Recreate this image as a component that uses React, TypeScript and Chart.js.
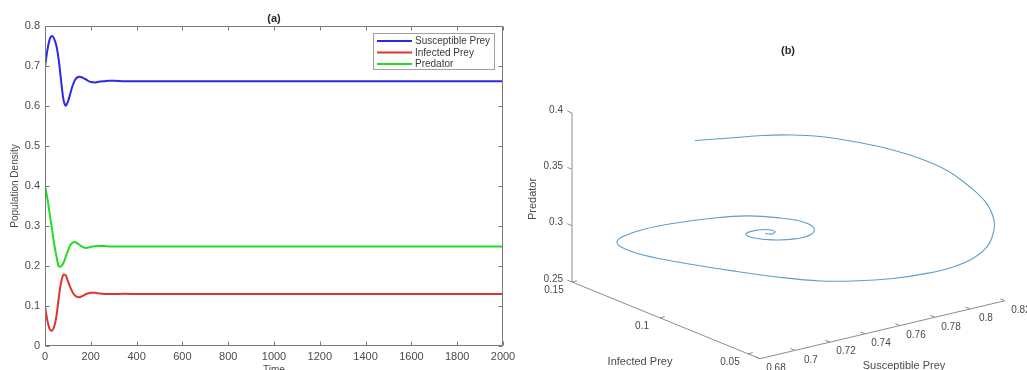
import React, { useEffect, useRef } from "react";
import { Chart, registerables } from "chart.js";

Chart.register(...registerables);

const FONT = '"Liberation Sans", Arial, Helvetica, sans-serif';

// ---------- Panel (a): time series ----------
const timeA = [
  0, 10, 20, 30, 40, 50, 60, 70, 80, 90, 100, 110, 120, 130, 140, 150, 160, 170, 180, 190, 200,
  220, 240, 260, 280, 300, 350, 400, 500, 600, 700, 800, 900, 1000, 1100, 1200, 1300, 1400, 1500,
  1600, 1700, 1800, 1900, 2000,
];
const susceptibleA = [
  0.698, 0.738, 0.766, 0.775, 0.768, 0.75, 0.715, 0.665, 0.618, 0.601, 0.611, 0.63, 0.65, 0.664,
  0.671, 0.673, 0.672, 0.669, 0.666, 0.662, 0.66, 0.659, 0.661, 0.662, 0.663, 0.663, 0.662, 0.662,
  0.662, 0.662, 0.662, 0.662, 0.662, 0.662, 0.662, 0.662, 0.662, 0.662, 0.662, 0.662, 0.662, 0.662,
  0.662, 0.662,
];
const infectedA = [
  0.1, 0.065, 0.043, 0.038, 0.048, 0.075, 0.12, 0.158, 0.178, 0.177, 0.162, 0.147, 0.135, 0.127,
  0.123, 0.122, 0.124, 0.127, 0.13, 0.132, 0.133, 0.133, 0.131, 0.13, 0.13, 0.13, 0.1305, 0.13,
  0.13, 0.13, 0.13, 0.13, 0.13, 0.13, 0.13, 0.13, 0.13, 0.13, 0.13, 0.13, 0.13, 0.13, 0.13, 0.13,
];
const predatorA = [
  0.4, 0.37, 0.332, 0.295, 0.255, 0.225, 0.199, 0.199, 0.207, 0.222, 0.238, 0.251, 0.258, 0.26,
  0.257, 0.253, 0.249, 0.246, 0.245, 0.246, 0.248, 0.2495, 0.25, 0.25, 0.249, 0.249, 0.249, 0.249,
  0.249, 0.249, 0.249, 0.249, 0.249, 0.249, 0.249, 0.249, 0.249, 0.249, 0.249, 0.249, 0.249, 0.249,
  0.249, 0.249,
];
const seriesNamesA = ["Susceptible Prey", "Infected Prey", "Predator"];
const seriesColorsA = ["#2b2be6", "#e03434", "#22dc22"];

// ---------- Panel (b): 3-D phase trajectory ----------
const susceptibleB = [
  0.7, 0.7249, 0.7364, 0.7458, 0.7563, 0.7678, 0.7796, 0.7911, 0.8005, 0.8085, 0.8144, 0.8169,
  0.8165, 0.8144, 0.8095, 0.8026, 0.7935, 0.7817, 0.7678, 0.7563, 0.7441, 0.726, 0.7086, 0.6947,
  0.687, 0.6856, 0.6877, 0.6947, 0.7051, 0.718, 0.7309, 0.7424, 0.7504, 0.7542, 0.7531, 0.7476,
  0.7396, 0.7326, 0.7305, 0.7323, 0.7371, 0.7406, 0.7396, 0.7371,
];
const infectedB = [
  0.1, 0.1049, 0.0976, 0.0916, 0.0849, 0.0776, 0.0701, 0.0627, 0.0567, 0.0516, 0.0479, 0.0463,
  0.0465, 0.0479, 0.051, 0.0554, 0.0612, 0.0687, 0.0776, 0.0849, 0.0927, 0.1043, 0.1153, 0.1242,
  0.1291, 0.13, 0.1287, 0.1242, 0.1176, 0.1094, 0.1011, 0.0938, 0.0887, 0.0863, 0.0869, 0.0905,
  0.0956, 0.1, 0.1014, 0.1003, 0.0971, 0.0949, 0.0956, 0.0971,
];
const predatorB = [
  0.4, 0.39, 0.3927, 0.3935, 0.3926, 0.3886, 0.3828, 0.3744, 0.3642, 0.3498, 0.335, 0.32, 0.3084,
  0.2968, 0.2864, 0.2786, 0.2725, 0.2676, 0.2648, 0.2644, 0.2666, 0.2721, 0.2785, 0.285, 0.2918,
  0.2967, 0.3012, 0.3077, 0.3134, 0.3183, 0.3211, 0.3197, 0.3165, 0.3113, 0.3055, 0.3013, 0.3001,
  0.302, 0.3046, 0.3074, 0.3093, 0.3077, 0.3054, 0.3058,
];
const sTicksB = [0.68, 0.7, 0.72, 0.74, 0.76, 0.78, 0.8, 0.82];
const iTicksB = [0.15, 0.1, 0.05];
const pTicksB = [0.25, 0.3, 0.35, 0.4];
const sRangeB = [0.68, 0.82];
const iRangeB = [0.0432, 0.15];
const pRangeB = [0.25, 0.4];

// view (orthographic projection) of the 3-D box, in scale units per data unit
const VIEW = { sx: 1750, sy: 414, ix: -1760, iy: 718, pz: 1127 };
function project(s: number, i: number, p: number) {
  const ds = s - sRangeB[0];
  const di = i - iRangeB[1];
  const dp = p - pRangeB[0];
  return { x: ds * VIEW.sx + di * VIEW.ix, y: ds * VIEW.sy + di * VIEW.iy + dp * VIEW.pz };
}

const fmt = (v: number) => String(+v.toFixed(2));

const panelAPlugin = {
  id: "panelA",
  afterDatasetsDraw(chart: any) {
    const { ctx, chartArea: ca, scales } = chart;
    const L = Math.round(ca.left) + 0.5;
    const R = Math.round(ca.right) - 0.5;
    const T = Math.round(ca.top) + 0.5;
    const B = Math.round(ca.bottom) - 0.5;
    ctx.save();
    ctx.strokeStyle = "#7a7a7a";
    ctx.lineWidth = 1;
    ctx.strokeRect(L, T, R - L, B - T);
    const tl = 4;
    ctx.beginPath();
    scales.x.ticks.forEach((t: any) => {
      const x = Math.round(scales.x.getPixelForValue(t.value)) + 0.5;
      ctx.moveTo(x, B); ctx.lineTo(x, B - tl);
      ctx.moveTo(x, T); ctx.lineTo(x, T + tl);
    });
    scales.y.ticks.forEach((t: any) => {
      const y = Math.round(scales.y.getPixelForValue(t.value)) + 0.5;
      ctx.moveTo(L, y); ctx.lineTo(L + tl, y);
      ctx.moveTo(R, y); ctx.lineTo(R - tl, y);
    });
    ctx.stroke();

    // legend
    const lx = 373.5, ly = 33.5, lw = 121, lh = 36;
    ctx.fillStyle = "#ffffff";
    ctx.fillRect(lx, ly, lw, lh);
    ctx.strokeStyle = "#a0a0a0";
    ctx.strokeRect(lx, ly, lw, lh);
    ctx.font = `10px ${FONT}`;
    ctx.textBaseline = "middle";
    ctx.textAlign = "left";
    seriesNamesA.forEach((name, k) => {
      const y = 41 + k * 11.5;
      ctx.strokeStyle = seriesColorsA[k];
      ctx.lineWidth = 2;
      ctx.beginPath();
      ctx.moveTo(377, y);
      ctx.lineTo(412, y);
      ctx.stroke();
      ctx.fillStyle = "#3a3a3a";
      ctx.fillText(name, 415, y + 0.5);
    });

    // titles
    const cx = (ca.left + ca.right) / 2;
    ctx.fillStyle = "#2a2a2a";
    ctx.font = `bold 11px ${FONT}`;
    ctx.textAlign = "center";
    ctx.textBaseline = "middle";
    ctx.fillText("(a)", cx, 19);
    ctx.fillStyle = "#4a4a4a";
    ctx.font = `10px ${FONT}`;
    ctx.textBaseline = "top";
    ctx.fillText("Time", cx, 365);
    ctx.save();
    ctx.translate(15, (ca.top + ca.bottom) / 2);
    ctx.rotate(-Math.PI / 2);
    ctx.textBaseline = "middle";
    ctx.fillText("Population Density", 0, 0);
    ctx.restore();
    ctx.restore();
  },
};

const panelBPlugin = {
  id: "panelB",
  beforeDatasetsDraw(chart: any) {
    const { ctx, scales } = chart;
    const px = (s: number, i: number, p: number) => {
      const q = project(s, i, p);
      return [scales.x.getPixelForValue(q.x), scales.y.getPixelForValue(q.y)];
    };
    const dir = (a: number[], b: number[], len: number) => {
      const dx = b[0] - a[0], dy = b[1] - a[1];
      const n = Math.hypot(dx, dy);
      return [(dx / n) * len, (dy / n) * len];
    };
    const [s0, s1] = sRangeB;
    const [i0, i1] = iRangeB;
    const [p0, p1] = pRangeB;
    const origin = px(s0, i1, p0);
    const dirPlusI = dir(px(s0, i0, p0), px(s0, i1, p0), 5);
    const dirPlusS = dir(px(s0, i1, p0), px(s1, i1, p0), 5);

    ctx.save();
    ctx.strokeStyle = "#8c8c8c";
    ctx.lineWidth = 1;
    const seg = (a: number[], b: number[]) => {
      ctx.moveTo(a[0], a[1]);
      ctx.lineTo(b[0], b[1]);
    };
    ctx.beginPath();
    seg(origin, px(s0, i1, p1));
    seg(origin, px(s0, i0, p0));
    seg(px(s0, i0, p0), px(s1, i0, p0));
    pTicksB.forEach((v) => {
      const a = px(s0, i1, v);
      seg(a, [a[0] + dirPlusI[0], a[1] + dirPlusI[1]]);
    });
    iTicksB.forEach((v) => {
      const a = px(s0, v, p0);
      seg(a, [a[0] + dirPlusS[0], a[1] + dirPlusS[1]]);
    });
    sTicksB.forEach((v) => {
      const a = px(v, i0, p0);
      seg(a, [a[0] + dirPlusI[0], a[1] + dirPlusI[1]]);
    });
    ctx.stroke();

    ctx.fillStyle = "#4a4a4a";
    ctx.font = `10px ${FONT}`;
    ctx.textBaseline = "middle";
    ctx.textAlign = "right";
    pTicksB.forEach((v) => {
      const a = px(s0, i1, v);
      ctx.fillText(fmt(v), a[0] - 9, a[1] - 3);
    });
    ctx.textAlign = "center";
    iTicksB.forEach((v) => {
      const a = px(s0, v, p0);
      ctx.fillText(fmt(v), a[0] - 18, a[1] + 8);
    });
    sTicksB.forEach((v) => {
      const a = px(v, i0, p0);
      ctx.fillText(fmt(v), a[0] + 16, a[1] + 9.5);
    });

    ctx.font = `11px ${FONT}`;
    ctx.fillText("Infected Prey", 120, 362);
    ctx.fillText("Susceptible Prey", 384, 366);
    ctx.save();
    ctx.translate(13, 199);
    ctx.rotate(-Math.PI / 2);
    ctx.fillText("Predator", 0, 0);
    ctx.restore();
    ctx.fillStyle = "#2a2a2a";
    ctx.font = `bold 11px ${FONT}`;
    ctx.fillText("(b)", 268, 51);
    ctx.restore();
  },
};

export default function App() {
  const refA = useRef<HTMLCanvasElement>(null);
  const refB = useRef<HTMLCanvasElement>(null);

  useEffect(() => {
    const tickFont = { family: FONT, size: 11 };
    const chartA = new Chart(refA.current as HTMLCanvasElement, {
      type: "line",
      data: {
        datasets: [susceptibleA, infectedA, predatorA].map((vals, k) => ({
          label: seriesNamesA[k],
          data: timeA.map((t, j) => ({ x: t, y: vals[j] })),
          borderColor: seriesColorsA[k],
          borderWidth: 2,
          pointRadius: 0,
          tension: 0.3,
          fill: false,
        })),
      },
      options: {
        responsive: false,
        animation: false,
        devicePixelRatio: 1,
        layout: { padding: { top: 26, right: 17, left: 0, bottom: 0 } },
        plugins: { legend: { display: false }, tooltip: { enabled: false }, title: { display: false } },
        scales: {
          x: {
            type: "linear",
            min: 0,
            max: 2000,
            grid: { display: false, drawTicks: false },
            border: { display: false },
            ticks: {
              stepSize: 200,
              font: tickFont,
              color: "#4a4a4a",
              padding: 4,
              maxRotation: 0,
              autoSkip: false,
              callback: (v: any) => String(Math.round(Number(v))),
            },
            afterFit: (s: any) => { s.height = 24; },
          },
          y: {
            min: 0,
            max: 0.8,
            grid: { display: false, drawTicks: false },
            border: { display: false },
            ticks: {
              stepSize: 0.1,
              font: tickFont,
              color: "#4a4a4a",
              padding: 5,
              callback: (v: any) => String(+Number(v).toFixed(1)),
            },
            afterFit: (s: any) => { s.width = 45; },
          },
        },
      },
      plugins: [panelAPlugin],
    } as any);

    const chartB = new Chart(refB.current as HTMLCanvasElement, {
      type: "scatter",
      data: {
        datasets: [
          {
            label: "trajectory",
            data: susceptibleB.map((s, k) => project(s, infectedB[k], predatorB[k])),
            showLine: true,
            borderColor: "#5f9ec8",
            borderWidth: 1.1,
            pointRadius: 0,
            tension: 0.4,
            fill: false,
          },
        ],
      },
      options: {
        responsive: false,
        animation: false,
        devicePixelRatio: 1,
        layout: { padding: 0 },
        plugins: { legend: { display: false }, tooltip: { enabled: false } },
        scales: {
          x: { type: "linear", min: -52, max: 455, display: false },
          y: { type: "linear", min: -88, max: 282, display: false },
        },
      },
      plugins: [panelBPlugin],
    } as any);

    return () => {
      chartA.destroy();
      chartB.destroy();
    };
  }, []);

  return (
    <div style={{ position: "absolute", left: 0, top: 0, width: 1027, height: 370, background: "#ffffff", overflow: "hidden" }}>
      <div style={{ position: "absolute", left: 0, top: 0, width: 520, height: 370 }}>
        <canvas ref={refA} width={520} height={370} style={{ width: 520, height: 370, display: "block" }} />
      </div>
      <div style={{ position: "absolute", left: 520, top: 0, width: 507, height: 370 }}>
        <canvas ref={refB} width={507} height={370} style={{ width: 507, height: 370, display: "block" }} />
      </div>
    </div>
  );
}
